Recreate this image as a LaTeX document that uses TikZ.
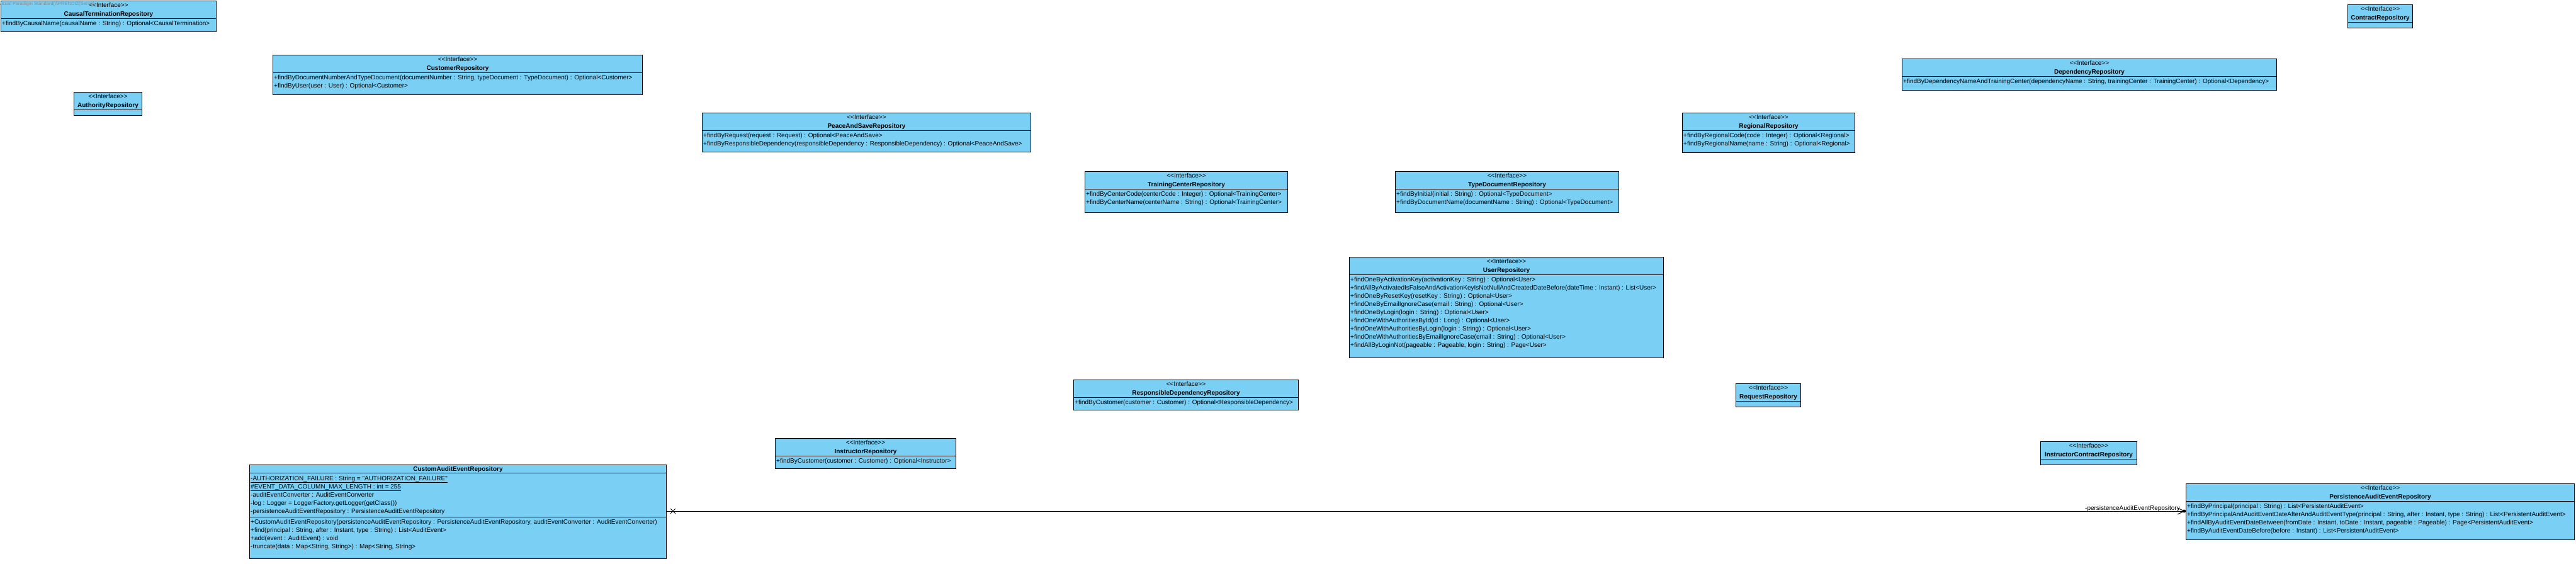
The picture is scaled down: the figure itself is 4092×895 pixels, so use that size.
\documentclass[tikz,border=0pt]{standalone}
\usepackage{fontspec}
\setmainfont{Liberation Sans}
\definecolor{vpblue}{RGB}{122,207,245}
\definecolor{wmgray}{RGB}{140,140,140}
\newcommand\stereotxt{{<}{<}Interface{>}{>}}
\tikzset{
  ubox/.style={draw=black, fill=vpblue, line width=1pt, inner sep=0pt, anchor=north west},
  txt/.style={inner sep=0pt, font=\fontsize{10}{12}\selectfont, text height=7.2pt, text depth=2.1pt},
  ttl/.style={txt, font=\fontsize{10}{12}\selectfont\bfseries},
  sepline/.style={line width=1pt, draw=black},
  conn/.style={line width=1pt, draw=black},
}
% #1 name, #2 left, #3 top, #4 right, #5 bottom, #6 title
\newcommand\ibox[6]{%
  \node[ubox, minimum width={#4-#2}, minimum height={#5-#3}] (#1) at (#2,#3) {};
  \node[txt] (#1-st) at ([yshift=-8pt]#1.north) {\stereotxt};
  \node[ttl] (#1-nm) at ([yshift=-22pt]#1.north) {#6};
  \draw[sepline] ([yshift=-28pt]#1.north west) -- ([yshift=-28pt]#1.north east);
}
% #1 box, #2 prefix, #3 first line offset from top, #4 list
\newcommand\iops[4]{%
  \foreach \opline [count=\i from 0] in {#4} {
    \node[txt, anchor=west] (#2-\i) at ([xshift=2pt, yshift={-(#3+13*\i)}]#1.north west) {\opline};
  }%
}
\begin{document}
\begin{tikzpicture}[x=1pt, y=-1pt]
\useasboundingbox (0,0) rectangle (4092,895);

% CausalTermination
\ibox{causal}{1}{1}{343}{50}{CausalTerminationRepository}
\iops{causal}{causal-op}{37}{{+findByCausalName(causalName : String) : Optional<CausalTermination>}}
\node[anchor=west, inner sep=0pt, text=wmgray, font=\fontsize{7.5}{9}\selectfont] (wm) at (-2.5,7) {Visual Paradigm Standard(APRENDIZ(Sena))};

% Authority
\ibox{authority}{117}{146}{225}{183}{AuthorityRepository}

% Customer
\ibox{customer}{433}{87}{1020}{150}{CustomerRepository}
\iops{customer}{customer-op}{37}{{+findByDocumentNumberAndTypeDocument(documentNumber : String, typeDocument : TypeDocument) : Optional<Customer>},{+findByUser(user : User) : Optional<Customer>}}

% PeaceAndSave
\ibox{peace}{1115}{179}{1637}{241}{PeaceAndSaveRepository}
\iops{peace}{peace-op}{37}{{+findByRequest(request : Request) : Optional<PeaceAndSave>},{+findByResponsibleDependency(responsibleDependency : ResponsibleDependency) : Optional<PeaceAndSave>}}

% TrainingCenter
\ibox{training}{1723}{272}{2045}{337}{TrainingCenterRepository}
\iops{training}{training-op}{37}{{+findByCenterCode(centerCode : Integer) : Optional<TrainingCenter>},{+findByCenterName(centerName : String) : Optional<TrainingCenter>}}

% TypeDocument
\ibox{typedoc}{2216}{272}{2571}{337}{TypeDocumentRepository}
\iops{typedoc}{typedoc-op}{37}{{+findByInitial(initial : String) : Optional<TypeDocument>},{+findByDocumentName(documentName : String) : Optional<TypeDocument>}}

% User
\ibox{user}{2143}{408}{2642}{568}{UserRepository}
\iops{user}{user-op}{37}{{+findOneByActivationKey(activationKey : String) : Optional<User>},{+findAllByActivatedIsFalseAndActivationKeyIsNotNullAndCreatedDateBefore(dateTime : Instant) : List<User>},{+findOneByResetKey(resetKey : String) : Optional<User>},{+findOneByEmailIgnoreCase(email : String) : Optional<User>},{+findOneByLogin(login : String) : Optional<User>},{+findOneWithAuthoritiesById(id : Long) : Optional<User>},{+findOneWithAuthoritiesByLogin(login : String) : Optional<User>},{+findOneWithAuthoritiesByEmailIgnoreCase(email : String) : Optional<User>},{+findAllByLoginNot(pageable : Pageable, login : String) : Page<User>}}

% Regional
\ibox{regional}{2672}{179}{2946}{242}{RegionalRepository}
\iops{regional}{regional-op}{37}{{+findByRegionalCode(code : Integer) : Optional<Regional>},{+findByRegionalName(name : String) : Optional<Regional>}}

% Dependency
\ibox{dependency}{3021}{93}{3616}{143}{DependencyRepository}
\iops{dependency}{dependency-op}{37}{{+findByDependencyNameAndTrainingCenter(dependencyName : String, trainingCenter : TrainingCenter) : Optional<Dependency>}}

% Contract
\ibox{contract}{3729}{7}{3832}{44}{ContractRepository}

% ResponsibleDependency
\ibox{responsible}{1705}{603}{2062}{651}{ResponsibleDependencyRepository}
\iops{responsible}{responsible-op}{37}{{+findByCustomer(customer : Customer) : Optional<ResponsibleDependency>}}

% Instructor
\ibox{instructor}{1231}{696}{1518}{744}{InstructorRepository}
\iops{instructor}{instructor-op}{37}{{+findByCustomer(customer : Customer) : Optional<Instructor>}}

% Request
\ibox{request}{2757}{609}{2860}{646}{RequestRepository}

% InstructorContract
\ibox{instrcontract}{3241}{701}{3394}{738}{InstructorContractRepository}

% PersistenceAuditEvent
\ibox{pae}{3472}{768}{4089}{857}{PersistenceAuditEventRepository}
\iops{pae}{pae-op}{37}{{+findByPrincipal(principal : String) : List<PersistentAuditEvent>},{+findByPrincipalAndAuditEventDateAfterAndAuditEventType(principal : String, after : Instant, type : String) : List<PersistentAuditEvent>},{+findAllByAuditEventDateBetween(fromDate : Instant, toDate : Instant, pageable : Pageable) : Page<PersistentAuditEvent>},{+findByAuditEventDateBefore(before : Instant) : List<PersistentAuditEvent>}}

% CustomAuditEvent (class)
\node[ubox, minimum width=662, minimum height=149] (cae) at (396,738) {};
\node[ttl] (cae-nm) at ([yshift=-8pt]cae.north) {CustomAuditEventRepository};
\draw[sepline] ([yshift=-13.5pt]cae.north west) -- ([yshift=-13.5pt]cae.north east);
\iops{cae}{cae-at}{22.5}{{\underline{-AUTHORIZATION\_FAILURE : String = \textquotedbl AUTHORIZATION\_FAILURE\textquotedbl}},{\underline{\#EVENT\_DATA\_COLUMN\_MAX\_LENGTH : int = 255}},{-auditEventConverter : AuditEventConverter},{-log : Logger = LoggerFactory.getLogger(getClass())},{-persistenceAuditEventRepository : PersistenceAuditEventRepository}}
\draw[sepline] ([yshift=-83pt]cae.north west) -- ([yshift=-83pt]cae.north east);
\iops{cae}{cae-op}{92}{{+CustomAuditEventRepository(persistenceAuditEventRepository : PersistenceAuditEventRepository, auditEventConverter : AuditEventConverter)},{+find(principal : String, after : Instant, type : String) : List<AuditEvent>},{+add(event : AuditEvent) : void},{-truncate(data : Map<String, String>) : Map<String, String>}}

% Association
\coordinate (c-start) at ([yshift=-74pt]cae.north east);
\coordinate (c-end) at ([yshift=-44pt]pae.north west);
\draw[conn] (c-start) -- (c-end);
\draw[conn] ([shift={(6,-4)}]c-start) -- ([shift={(14,4)}]c-start);
\draw[conn] ([shift={(6,4)}]c-start) -- ([shift={(14,-4)}]c-start);
\draw[conn] ([shift={(-13,-5)}]c-end) -- ([xshift=-2pt]c-end) -- ([shift={(-13,5)}]c-end);
\fill[black] ([xshift=-2.5pt]c-end) circle (2.5);
\node[txt, anchor=base east] (c-lbl) at ([shift={(-9,-2)}]c-end) {-persistenceAuditEventRepository};
\end{tikzpicture}
\end{document}
